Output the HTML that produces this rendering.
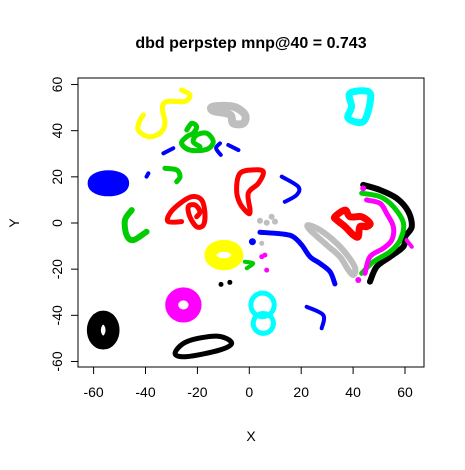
<!DOCTYPE html>
<html><head><meta charset="utf-8"><style>
body{margin:0;background:#fff}
svg text{font-family:"Liberation Sans",Arial,sans-serif;fill:#000}
</style></head><body>
<svg id="chart" width="465" height="465">
<text x="251" y="48" text-anchor="middle" font-size="16" font-weight="bold">dbd perpstep mnp@40 = 0.743</text>
<rect x="78" y="78" width="346" height="289" fill="none" stroke="#000"/>
<g id="marks"></g><g id="axes"></g>
<text x="251" y="441" text-anchor="middle" font-size="14">X</text>
<text x="19" y="223" text-anchor="middle" font-size="14" transform="rotate(-90 19 223)">Y</text>
</svg>
<script>
const xTicks=[-60,-40,-20,0,20,40,60];
const yTicks=[-60,-40,-20,0,20,40,60];
const lineNames=["yellow-s","gray-top","cyan-top","green-knot","blue-dash-1","blue-dash-2","blue-dash-3","blue-dot","green-hook","red-loop","blue-arc","green-c","red-double-loop","blue-long","gray-diag","red-right","black-arc","green-arc","magenta-arc","magenta-tail","green-small","blue-y","black-ellipse"];
const lineColors=["#ffff00","#bebebe","#00ffff","#00cd00","#0000ff","#0000ff","#0000ff","#0000ff","#00cd00","#ff0000","#0000ff","#00cd00","#ff0000","#0000ff","#bebebe","#ff0000","#000000","#00cd00","#ff00ff","#ff00ff","#00cd00","#0000ff","#000000"];
const lineClosed=[0,1,1,0,0,0,0,0,0,1,0,0,0,0,1,1,0,0,0,0,0,0,1];
const lineX=[
[-26.1,-22.9,-24.8,-31.9,-33.5,-32.5,-34.4,-38.9,-42.8,-42.1,-40.8],
[-13.9,-6.2,-1.7,-2.3,-6.2,-7.5,-13.9],
[38.8,45.9,46.5,43.9,38.1,39.4],
[-24.1,-22.2,-20.3,-21.6,-24.1,-26.1,-22.9,-16.4,-13.9,-16.4,-20.3,-21.6,-19.0],
[-33.1,-29.3],
[-11.3,-12.8,-11.0],
[-8.1,-4.2],
[-38.9,-39.6],
[-32.5,-28.0,-26.7,-28.0],
[-3.6,1.5,5.4,3.5,-0.4,0.3,-0.4,-3.6,-4.9],
[12.5,18.9,18.2,13.7],
[-45.3,-47.9,-47.3,-44.7,-39.6],
[-26.1,-31.2,-30.6,-26.7,-22.2,-18.4,-17.1,-17.7,-20.3,-22.9,-23.5,-20.9,-19.0,-20.3],
[4.1,13.1,17.0,20.2,23.4,27.2,31.1,33.0],
[22.7,27.2,33.7,38.2,40.8,40.1,38.2,34.9,29.8,23.4],
[33.0,36.9,38.8,43.3,46.5,45.2,42.6,42.0,40.1,36.9,33.7],
[43.9,50.4,56.8,61.3,62.6,60.1,59.4,54.3,49.1,46.5],
[43.3,50.4,55.5,59.4,58.1,54.3,47.8,43.3],
[45.2,50.4,52.9,55.5,54.9,51.6,46.5,44.6],
[60.6,62.6],
[-1.7,1.5,-1.0],
[22.1,28.5,27.9],
[-28.6,-24.1,-12.6,-6.8,-11.3,-24.1]];
const lineY=[
[57.6,55.5,52.7,52.6,49.7,43.2,38.9,37.4,40.3,44.6,46.8],
[50.4,50.4,47.0,43.2,43.2,47.0,48.6],
[56.2,56.9,51.9,43.9,45.4,50.4],
[40.3,43.2,41.7,38.9,37.4,34.5,31.6,31.9,35.2,38.9,38.1,35.2,33.1],
[30.2,32.4],
[34.5,32.4,29.5],
[33.8,31.6],
[21.5,20.1],
[23.7,23.0,20.1,17.9],
[21.5,23.0,22.2,17.2,12.9,5.6,4.2,8.5,14.3],
[20.1,15.7,12.1,9.2],
[5.6,1.3,-5.2,-7.4,-3.8],
[0.6,0.6,4.2,8.5,11.4,10.0,4.2,-0.9,-1.6,2.7,7.1,7.8,4.9,2.7],
[-4.0,-4.8,-6.0,-9.5,-14.6,-17.5,-21.1,-26.4],
[-0.9,-3.0,-8.8,-14.6,-19.6,-22.5,-20.4,-14.6,-9.5,-3.0],
[2.7,5.6,2.7,2.7,-0.1,-1.6,-1.6,-5.9,-5.2,-1.6,1.3],
[16.5,14.3,10.7,4.9,-1.6,-5.9,-10.2,-14.6,-18.9,-25.4],
[12.9,11.4,7.1,-0.1,-7.4,-12.4,-16.8,-21.8],
[10.0,8.5,4.2,-1.6,-7.4,-11.0,-14.6,-21.8],
[-7.4,-10.3],
[-16.8,-17.5,-19.6],
[-36.3,-39.9,-45.6],
[-56.5,-51.4,-49.0,-51.9,-55.0,-57.9]];
const lineWidths=[5,8,7,5,4,4,4,4,5,5,4,6,5,5,6,7,6,5,5,4,4,4,5];
const ringNames=["blue-blob","yellow-ring","magenta-ring","cyan-ring-top","cyan-ring-bottom","black-blob"];
const ringColors=["#0000ff","#ffff00","#ff00ff","#00ffff","#00ffff","#000000"];
const ringCX=[-54.3,-9.8,-25.4,5.1,5.4,-56.3];
const ringCY=[17.2,-13.9,-35.5,-35.5,-43.5,-46.4];
const ringRX=[5.3,5.2,4.5,4.5,3.9,3.6];
const ringRY=[2.6,4.0,4.8,5.1,4.3,5.4];
const ringStroke=[14,12,13,5,5,14];
const dotNames=["gray-dot","gray-dot","gray-dot","gray-dot","gray-dot","blue-dot","magenta-dot","magenta-dot","magenta-dot","black-dot","black-dot","magenta-dot","magenta-dot"];
const dotColors=["#bebebe","#bebebe","#bebebe","#bebebe","#bebebe","#0000ff","#ff00ff","#ff00ff","#ff00ff","#000000","#000000","#ff00ff","#ff00ff"];
const dotX=[4.1,6.7,8.6,9.9,4.8,1.2,4.8,6.0,6.7,-10.9,-7.5,42.0,43.9];
const dotY=[1.0,0.1,2.7,0.6,-8.8,-8.1,-14.6,-13.9,-20.4,-26.6,-25.7,-24.7,15.0];
const dotR=[3,3,3,3,2.5,3.5,2.5,2.5,2.5,2.5,2.5,3,3];

const sx=v=>249.3+v*2.595, sy=v=>223-v*2.308;
const NS="http://www.w3.org/2000/svg";
const marks=document.getElementById('marks'), axes=document.getElementById('axes');
function mk(t,a,p){const e=document.createElementNS(NS,t);for(const k in a)e.setAttribute(k,a[k]);p.appendChild(e);return e;}
function smooth(P,closed){
 const n=P.length; if(n<3) return 'M'+P.map(p=>p.join(',')).join(' L');
 const g=i=>closed?P[(i+n)%n]:P[Math.max(0,Math.min(n-1,i))];
 let d='M'+P[0].join(','); const m=closed?n:n-1;
 for(let i=0;i<m;i++){const p0=g(i-1),p1=g(i),p2=g(i+1),p3=g(i+2);
  const c1=[p1[0]+(p2[0]-p0[0])/6,p1[1]+(p2[1]-p0[1])/6],c2=[p2[0]-(p3[0]-p1[0])/6,p2[1]-(p3[1]-p1[1])/6];
  d+=` C${c1.join(',')} ${c2.join(',')} ${p2.join(',')}`;}
 return d+(closed?'Z':'');
}
for(let i=0;i<ringCX.length;i++){
 const e=mk('ellipse',{cx:sx(ringCX[i]),cy:sy(ringCY[i]),rx:ringRX[i]*2.595,ry:ringRY[i]*2.308,fill:'none',stroke:ringColors[i],'stroke-width':ringStroke[i]},marks);
 
 
}
for(let i=0;i<lineX.length;i++){
 const P=lineX[i].map((x,j)=>[sx(x),sy(lineY[i][j])]);
 const e=mk('path',{d:smooth(P,lineClosed[i]),fill:'none',stroke:lineColors[i],'stroke-width':lineWidths[i],'stroke-linecap':'round','stroke-linejoin':'round'},marks);
 
 
}
for(let i=0;i<dotX.length;i++){
 const e=mk('circle',{cx:sx(dotX[i]),cy:sy(dotY[i]),r:dotR[i],fill:dotColors[i]},marks);
 
 
}
xTicks.forEach(v=>{
 const t=mk('line',{x1:sx(v),x2:sx(v),y1:367,y2:374,stroke:'#000'},axes);
 
 
 const l=mk('text',{x:sx(v),y:397,'text-anchor':'middle','font-size':14},axes);l.textContent=v;
 
 
});
yTicks.forEach(v=>{
 const t=mk('line',{x1:71,x2:78,y1:sy(v),y2:sy(v),stroke:'#000'},axes);
 
 
 const l=mk('text',{x:62,y:sy(v),'text-anchor':'middle','font-size':14,transform:`rotate(-90 62 ${sy(v)})`},axes);l.textContent=v;
 
 
});
</script>
</body></html>
